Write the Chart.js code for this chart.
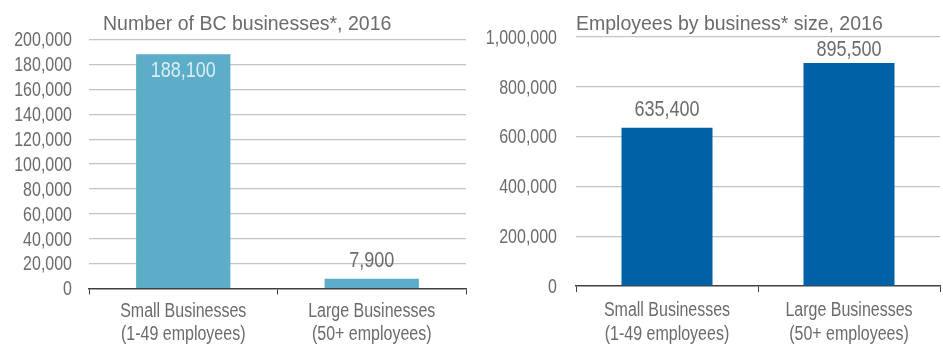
<!DOCTYPE html>
<html>
<head>
<meta charset="utf-8">
<script src="https://cdn.jsdelivr.net/npm/chart.js@4.4.1/dist/chart.umd.min.js"></script>
<style>
  html, body { margin: 0; padding: 0; background: #fff; }
  #wrap { position: relative; width: 943px; height: 345px; overflow: hidden; }
  .box { position: absolute; top: 0; height: 345px; }
  #left { left: 0; width: 480px; }
  #right { left: 480px; width: 463px; }
</style>
</head>
<body>
<div id="wrap">
  <div class="box" id="left"><canvas id="businessChart"></canvas></div>
  <div class="box" id="right"><canvas id="employeeChart"></canvas></div>
</div>
<script>
const categories = [
  ['Small Businesses', '(1-49 employees)'],
  ['Large Businesses', '(50+ employees)']
];
const businessCounts = [188100, 7900];
const employeeCounts = [635400, 895500];
const businessTicks = [0, 20000, 40000, 60000, 80000, 100000, 120000, 140000, 160000, 180000, 200000];
const employeeTicks = [0, 200000, 400000, 600000, 800000, 1000000];

const SANS = '"Liberation Sans", Arial, sans-serif';
const GREY = '#6b6b6b';
const SQUEEZE = 0.82; // no narrow face installed, so squeeze Liberation Sans horizontally

const fmt = v => v.toLocaleString('en-US');

function narrowText(ctx, text, x, y, size, align, color) {
  ctx.save();
  ctx.font = size + 'px ' + SANS;
  ctx.fillStyle = color;
  ctx.textAlign = align;
  ctx.textBaseline = 'middle';
  ctx.translate(x, y);
  ctx.scale(SQUEEZE, 1);
  ctx.fillText(text, 0, 0);
  ctx.restore();
}

// title text drawn at a fixed spot above the plot
const titlePlugin = {
  id: 'chartHeading',
  afterDraw(chart, args, opts) {
    const ctx = chart.ctx;
    ctx.save();
    ctx.font = '19.5px ' + SANS;
    ctx.fillStyle = GREY;
    ctx.textAlign = 'left';
    ctx.textBaseline = 'alphabetic';
    ctx.fillText(opts.text, opts.x, opts.y);
    ctx.restore();
  }
};

// axis labels in the condensed style
const axisLabelPlugin = {
  id: 'axisLabels',
  afterDraw(chart, args, opts) {
    const ctx = chart.ctx;
    const x = chart.scales.x, y = chart.scales.y;
    y.ticks.forEach(t => {
      narrowText(ctx, fmt(t.value), y.right - opts.yPad, y.getPixelForValue(t.value) + 1.5, 19.5, 'right', GREY);
    });
    chart.data.labels.forEach((lines, i) => {
      const cx = x.getPixelForValue(i);
      lines.forEach((line, j) => {
        narrowText(ctx, line, cx, x.top + opts.xFirst + j * opts.xLine, 19.5, 'center', GREY);
      });
    });
  }
};

// value labels on top of / inside the bars
const valuePlugin = {
  id: 'barValues',
  afterDatasetsDraw(chart, args, opts) {
    const ctx = chart.ctx;
    const area = chart.chartArea;
    const meta = chart.getDatasetMeta(0);
    const data = chart.data.datasets[0].data;
    meta.data.forEach((bar, i) => {
      if (opts.inside[i]) {
        narrowText(ctx, fmt(data[i]), bar.x, bar.y + opts.insideOffset, 22, 'center', opts.insideColor);
      } else {
        const y = Math.max(bar.y - opts.offset, area.top + 13);
        narrowText(ctx, fmt(data[i]), bar.x, y, 22, 'center', GREY);
      }
    });
  }
};

function makeChart(canvas, cfg) {
  return new Chart(canvas, {
    type: 'bar',
    data: {
      labels: categories,
      datasets: [{
        data: cfg.values,
        backgroundColor: cfg.color,
        barPercentage: 0.5,
        categoryPercentage: 1
      }]
    },
    options: {
      responsive: true,
      maintainAspectRatio: false,
      animation: false,
      layout: { padding: { top: cfg.top, right: cfg.right, left: 0, bottom: 0 } },
      plugins: {
        legend: { display: false },
        tooltip: { enabled: false },
        chartHeading: cfg.heading,
        axisLabels: cfg.axis,
        barValues: cfg.labels
      },
      scales: {
        x: {
          grid: { display: true, drawOnChartArea: false, tickLength: 6, color: '#404040', offset: true },
          border: { display: true, color: '#404040', width: 1.5 },
          ticks: { display: false },
          afterFit(scale) { scale.height = cfg.xHeight; }
        },
        y: {
          min: 0,
          max: cfg.ticks[cfg.ticks.length - 1],
          afterBuildTicks(scale) { scale.ticks = cfg.ticks.map(v => ({ value: v })); },
          grid: {
            drawTicks: false,
            color: ctx => ctx.tick && ctx.tick.value === 0 ? 'rgba(0,0,0,0)' : '#c4c4c4',
            lineWidth: 1.2
          },
          border: { display: false },
          ticks: { display: false, autoSkip: false },
          afterFit(scale) { scale.width = cfg.yWidth; }
        }
      }
    },
    plugins: [titlePlugin, axisLabelPlugin, valuePlugin]
  });
}

makeChart(document.getElementById('businessChart'), {
  values: businessCounts,
  ticks: businessTicks,
  color: '#5badc8',
  top: 39.5, right: 14, xHeight: 56.5, yWidth: 89,
  heading: { text: 'Number of BC businesses*, 2016', x: 103, y: 30 },
  axis: { yPad: 17, xFirst: 23, xLine: 23.5 },
  labels: { inside: [true, false], insideColor: '#dcedf4', insideOffset: 17, offset: 18 }
});

makeChart(document.getElementById('employeeChart'), {
  values: employeeCounts,
  ticks: employeeTicks,
  color: '#0061a6',
  top: 37, right: 3, xHeight: 59, yWidth: 96,
  heading: { text: 'Employees by business* size, 2016', x: 96, y: 30 },
  axis: { yPad: 19, xFirst: 25, xLine: 23.5 },
  labels: { inside: [false, false], insideColor: '#ffffff', insideOffset: 17, offset: 18 }
});
</script>
</body>
</html>
